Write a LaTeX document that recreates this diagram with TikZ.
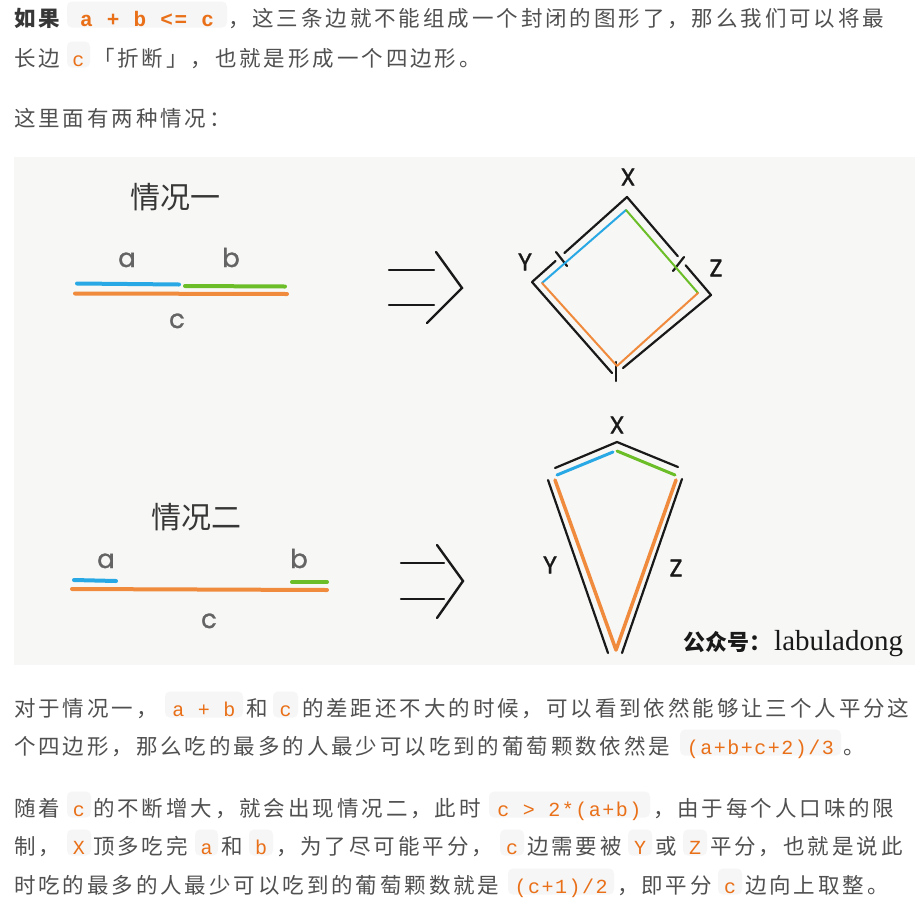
\documentclass[tikz,border=0pt]{standalone}
\usepackage{fontspec}
\newfontfamily\cjk[LetterSpace=13.5]{Noto Sans CJK SC}
\newfontfamily\cjkplain{Noto Sans CJK SC}
\newfontfamily\codef[LetterSpace=7.5]{Liberation Mono}
\newfontfamily\popf[FakeBold=1.2]{Poppins}
\newfontfamily\seriff{Liberation Serif}
\definecolor{txt}{RGB}{80,80,80}
\definecolor{txtdark}{RGB}{55,55,55}
\definecolor{codeorange}{RGB}{233,112,24}
\definecolor{codebg}{RGB}{246,246,246}
\definecolor{figbg}{RGB}{247,247,245}
\definecolor{lblue}{RGB}{40,168,228}
\definecolor{lgreen}{RGB}{108,190,40}
\definecolor{lorange}{RGB}{240,138,60}
\definecolor{lblack}{RGB}{25,25,25}
\definecolor{lgrey}{RGB}{100,100,100}
\newcommand\cspan[5]{%
  \fill[codebg, rounded corners=5pt] (#2,#4-24.5) rectangle (#3,#4+1.5);
  \node[codetxt] (#1) at ({(#2+#3)/2},#4) {#5};}
\begin{document}
\begin{tikzpicture}[x=1pt,y=-1pt,
  txtnode/.style={anchor=base west, inner sep=0, text=txt, font=\cjk\fontsize{21.5}{25}\selectfont},
  codetxt/.style={anchor=base, inner sep=0, text=codeorange, font=\codef\fontsize{20}{24}\selectfont},
  boldcode/.style={codetxt, font=\codef\bfseries\fontsize{21}{25}\selectfont},
  title/.style={inner sep=0, text=txtdark, font=\cjkplain\fontsize{30}{34}\selectfont},
  seglabel/.style={anchor=base, inner sep=0, text=lgrey, font=\popf\fontsize{26}{30}\selectfont},
  vlabel/.style={inner sep=0, text=lblack, font=\popf\fontsize{24}{28}\selectfont},
  pen/.style={lblack, line width=2.2pt, line cap=round, line join=round},
  thick pen/.style={line width=4pt, line cap=round},
  arrowpen/.style={lblack, line width=2.4pt, line cap=round, line join=miter}
]
\useasboundingbox (0,0) rectangle (915,913);
\fill[white] (0,0) rectangle (915,913);

% ---------- paragraph 1 ----------
\node[txtnode, text=txtdark, font=\cjk\bfseries\fontsize{21.5}{25}\selectfont] (p1a) at (14,26) {如果};
\fill[codebg, rounded corners=5pt] (67,1.5) rectangle (227,27.5);
\node[boldcode] (p1code) at (147,26) {a + b <= c};
\node[txtnode] (p1b) at (228,26) {，这三条边就不能组成一个封闭的图形了，那么我们可以将最};
\node[txtnode] (p1c) at (14,66) {长边};
\cspan{p1c2}{67}{90}{66}{c}
\node[txtnode] (p1d) at (93,66) {「折断」，也就是形成一个四边形。};
\node[txtnode] (p1e) at (14,126) {这里面有两种情况：};

% ---------- figure ----------
\fill[figbg] (14,157) rectangle (915,665);

% case 1
\node[title] (t1) at (175,197) {情况一};
\draw[lblue, thick pen] (77,283.5) -- (179,284.5);
\draw[lgreen, thick pen] (185,286) -- (285,286.5);
\draw[lorange, thick pen] (75,293.5) -- (287,294);
\node[seglabel] (la1) at (127,267) {a};
\node[seglabel] (lb1) at (231,267) {b};
\node[seglabel] (lc1) at (177,328) {c};
\draw[arrowpen] (389,270) -- (434,270);
\draw[arrowpen] (389,305) -- (434,305);
\draw[arrowpen] (436,252) -- (462,288) -- (427,323);

% square
\coordinate (T) at (627,197);
\coordinate (R) at (711,295);
\coordinate (L) at (532,282);
\coordinate (G1b) at (564.4,253);
\coordinate (G1a) at (555.5,261);
\coordinate (G2a) at (677.8,256.2);
\coordinate (G2b) at (685.6,265.3);
\coordinate (B1) at (612,373);
\coordinate (B2) at (623,368);
\draw[pen] (G1b) -- (T) -- (G2a);
\draw[pen] (G2b) -- (R) -- (B2);
\draw[pen] (B1) -- (L) -- (G1a);
\draw[pen] (556,252) -- (567,266);
\draw[pen] (673,271) -- (684,257);
\draw[pen] (616,362) -- (616,381);
\coordinate (ct) at (626,210);
\coordinate (cr) at (698,293);
\coordinate (cb) at (617,366);
\coordinate (cl) at (542,283);
\draw[lblue, line width=2pt, line cap=round] (ct) -- (cl);
\draw[lgreen, line width=2pt, line cap=round] (ct) -- (cr);
\draw[lorange, line width=2pt, line cap=round, line join=round] (cl) -- (cb) -- (cr);
\node[vlabel] (sx) at (628,177) {X};
\node[vlabel] (sy) at (525,262) {Y};
\node[vlabel] (sz) at (716,268) {Z};

% case 2
\node[title] (t2) at (196,517) {情况二};
\draw[lblue, thick pen] (74,580) -- (116,581);
\draw[lgreen, thick pen] (292,582) -- (327,582);
\draw[lorange, thick pen] (72,589) -- (327,590);
\node[seglabel] (la2) at (106,568) {a};
\node[seglabel] (lb2) at (299,568) {b};
\node[seglabel] (lc2) at (209,628) {c};
\draw[arrowpen] (401,563) -- (444,563);
\draw[arrowpen] (401,599) -- (444,599);
\draw[arrowpen] (437,545) -- (463,581) -- (437,618);

% kite
\coordinate (KT) at (617,442);
\draw[pen] (555,468) -- (KT) -- (678,467);
\draw[lblue, line width=3pt, line cap=round] (557,475) -- (613,452);
\draw[lgreen, line width=3pt, line cap=round] (617,451) -- (675,475);
\draw[pen] (548,480) -- (608,653);
\draw[pen] (682,479) -- (622,653);
\draw[lorange, line width=3.5pt, line cap=round, line join=round] (555,480) -- (616,650) -- (676,480);
\node[vlabel] (kx) at (617,425) {X};
\node[vlabel] (ky) at (550,565) {Y};
\node[vlabel] (kz) at (676,568) {Z};

\node[anchor=base west, inner sep=0, text=lblack, font=\cjkplain\bfseries\fontsize{22}{26}\selectfont] (wm1) at (683,650) {公众号：};
\node[anchor=base west, inner sep=0, text=lblack, font=\seriff\fontsize{29}{33}\selectfont] (wm2) at (774,650) {labuladong};

% ---------- paragraph 2 ----------
\node[txtnode] (p2a) at (14,716) {对于情况一，};
\cspan{p2c1}{165}{243}{716}{a + b}
\node[txtnode] (p2b) at (246,716) {和};
\cspan{p2c2}{273}{298}{716}{c}
\node[txtnode] (p2c) at (302,716) {的差距还不大的时候，可以看到依然能够让三个人平分这};
\node[txtnode] (p2d) at (14,754) {个四边形，那么吃的最多的人最少可以吃到的葡萄颗数依然是};
\cspan{p2c3}{680}{841}{754}{(a+b+c+2)/3}
\node[txtnode] (p2e) at (843,754) {。};

% ---------- paragraph 3 ----------
\node[txtnode] (p3a) at (14,816) {随着};
\cspan{p3c1}{67}{91}{816}{c}
\node[txtnode] (p3b) at (93,816) {的不断增大，就会出现情况二，此时};
\cspan{p3c2}{489}{650}{816}{c > 2*(a+b)}
\node[txtnode] (p3c) at (653,816) {，由于每个人口味的限};

\node[txtnode] (p3d) at (14,854) {制，};
\cspan{p3c3}{67}{91}{854}{X}
\node[txtnode] (p3e) at (93,854) {顶多吃完};
\cspan{p3c4}{195}{218}{854}{a}
\node[txtnode] (p3f) at (221,854) {和};
\cspan{p3c5}{249}{273}{854}{b}
\node[txtnode] (p3g) at (276,854) {，为了尽可能平分，};
\cspan{p3c6}{500}{524}{854}{c}
\node[txtnode] (p3h) at (527,854) {边需要被};
\cspan{p3c7}{628}{652}{854}{Y}
\node[txtnode] (p3i) at (655,854) {或};
\cspan{p3c8}{683}{707}{854}{Z}
\node[txtnode] (p3j) at (710,854) {平分，也就是说此};

\node[txtnode] (p3k) at (14,893) {时吃的最多的人最少可以吃到的葡萄颗数就是};
\cspan{p3c9}{508}{614}{893}{(c+1)/2}
\node[txtnode] (p3l) at (617,893) {，即平分};
\cspan{p3c10}{718}{742}{893}{c}
\node[txtnode] (p3m) at (745,893) {边向上取整。};
\end{tikzpicture}
\end{document}
